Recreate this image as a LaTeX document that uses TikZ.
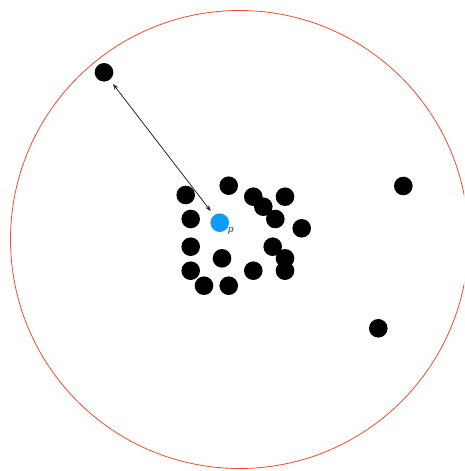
\documentclass[tikz,border=0pt]{standalone}
\usepackage{fontspec}
\setsansfont{Liberation Sans}
\usetikzlibrary{arrows.meta}
\definecolor{ringred}{RGB}{240,75,55}
\definecolor{pblue}{RGB}{15,155,250}
\tikzset{
  dot/.style={
    circle,
    fill=black,
    minimum size=18.6pt,
    inner sep=0pt
  },
  query/.style={
    circle,
    fill=pblue,
    minimum size=18.6pt,
    inner sep=0pt
  }
}

\begin{document}
\begin{tikzpicture}[x=1pt, y=-1pt, line width=0.8pt]
    \useasboundingbox (0,0) rectangle (464,471);
    \clip (0,0) rectangle (464,471);

    % 円
    \draw[ringred, line width=0.8pt] (239.5,239.5) circle (229);

    % 点
    \node[dot] (F) at (104,72.3) {};
    \node[dot] (A1) at (228.7,185.7) {};
    \node[dot] (A2) at (185.7,195) {};
    \node[dot] (A3) at (253.3,196.7) {};
    \node[dot] (A4) at (285,196.7) {};
    \node[dot] (A5) at (263.3,206.7) {};
    \node[dot] (A6) at (190.7,219) {};
    \node[dot] (A7) at (275.3,219) {};
    \node[dot] (A8) at (301.7,228.3) {};
    \node[dot] (A9) at (190.7,246.7) {};
    \node[dot] (A10) at (272.7,246.7) {};
    \node[dot] (A11) at (222,258.3) {};
    \node[dot] (A12) at (285,258.3) {};
    \node[dot] (A13) at (190.7,270.7) {};
    \node[dot] (A14) at (253.3,270.7) {};
    \node[dot] (A15) at (285,270.7) {};
    \node[dot] (A16) at (204,285.7) {};
    \node[dot] (A17) at (228.7,285.7) {};
    \node[dot] (B1) at (403.3,186) {};
    \node[dot] (B2) at (378.3,328.3) {};

    % 質問点
    \node[query] (P) at (219.7,222.7) {};
    \node[text=black!55, font=\sffamily\bfseries\itshape\fontsize{9.5}{9.5}\selectfont, inner sep=0pt]
        (Plabel) at (231,231) {p};

    % 辺
    \draw[black!85, {Stealth[length=6pt,width=4.5pt]}-{Stealth[length=6pt,width=4.5pt]},
        shorten <=5pt, shorten >=5pt] (F) -- (P);
\end{tikzpicture}
\end{document}
